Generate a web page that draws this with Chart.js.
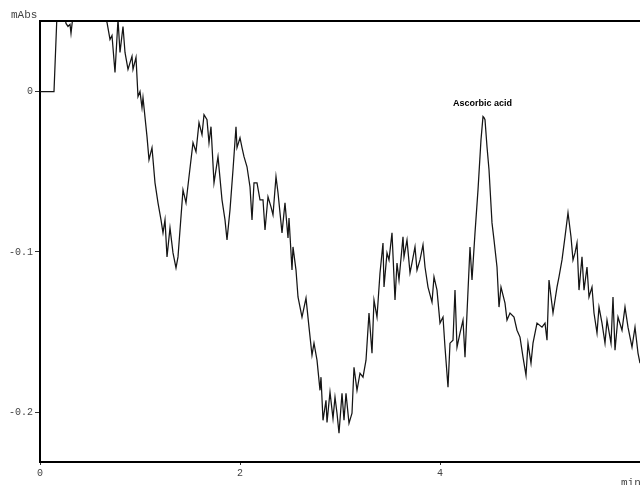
<!DOCTYPE html>
<html>
<head>
<meta charset="utf-8">
<script src="https://cdn.jsdelivr.net/npm/chart.js@4.4.1/dist/chart.umd.min.js"></script>
<style>
  html, body { margin: 0; padding: 0; background: #fff; }
  #wrap { width: 640px; height: 485px; position: relative; }
</style>
</head>
<body>
<div id="wrap"><canvas id="c" width="640" height="485"></canvas></div>
<script>
// Retention time (min)
const timeMin = [
  0, 0.14, 0.17, 0.20, 0.24, 0.26, 0.28, 0.30, 0.31, 0.33,
  0.38, 0.46, 0.55, 0.63, 0.67, 0.70, 0.72, 0.75, 0.78, 0.80,
  0.83, 0.85, 0.88, 0.92, 0.93, 0.96, 0.98, 1.00, 1.02, 1.03,
  1.07, 1.09, 1.12, 1.15, 1.18, 1.21, 1.23, 1.25, 1.27, 1.30,
  1.33, 1.36, 1.38, 1.43, 1.46, 1.49, 1.53, 1.56, 1.59, 1.62,
  1.64, 1.67, 1.69, 1.71, 1.74, 1.78, 1.82, 1.85, 1.87, 1.90,
  1.93, 1.96, 1.97, 2.00, 2.02, 2.04, 2.07, 2.10, 2.12, 2.14,
  2.17, 2.20, 2.23, 2.25, 2.28, 2.31, 2.33, 2.36, 2.38, 2.42,
  2.45, 2.48, 2.49, 2.52, 2.53, 2.56, 2.58, 2.62, 2.66, 2.69,
  2.72, 2.74, 2.77, 2.80, 2.81, 2.83, 2.86, 2.87, 2.90, 2.93,
  2.95, 2.97, 2.99, 3.02, 3.04, 3.06, 3.09, 3.12, 3.14, 3.17,
  3.20, 3.23, 3.26, 3.29, 3.32, 3.34, 3.37, 3.40, 3.43, 3.44,
  3.47, 3.49, 3.52, 3.55, 3.57, 3.59, 3.63, 3.64, 3.67, 3.70,
  3.72, 3.75, 3.77, 3.80, 3.83, 3.85, 3.88, 3.92, 3.94, 3.97,
  4.00, 4.03, 4.05, 4.08, 4.10, 4.13, 4.15, 4.17, 4.20, 4.23,
  4.25, 4.27, 4.30, 4.32, 4.35, 4.38, 4.41, 4.43, 4.44, 4.45,
  4.47, 4.49, 4.52, 4.54, 4.57, 4.59, 4.61, 4.65, 4.67, 4.70,
  4.74, 4.77, 4.80, 4.83, 4.86, 4.88, 4.91, 4.93, 4.97, 5.02,
  5.05, 5.07, 5.09, 5.13, 5.17, 5.19, 5.22, 5.25, 5.28, 5.31,
  5.33, 5.35, 5.37, 5.39, 5.42, 5.44, 5.47, 5.49, 5.52, 5.54,
  5.57, 5.59, 5.62, 5.65, 5.67, 5.71, 5.73, 5.75, 5.78, 5.82,
  5.85, 5.88, 5.92, 5.95, 5.98, 6.00
];

// Detector response (mAbs)
const absorbance = [
  0, 0, 0.0481, 0.0525, 0.0500, 0.0425, 0.0406, 0.0419, 0.0363, 0.0475,
  0.0544, 0.0563, 0.0538, 0.0500, 0.0431, 0.0325, 0.0350, 0.0119, 0.0450, 0.0244,
  0.0406, 0.0244, 0.0138, 0.0219, 0.0138, 0.0213, -0.0031, 0, -0.0100, -0.0038,
  -0.0281, -0.0425, -0.0350, -0.0569, -0.0694, -0.0800, -0.0881, -0.0800, -0.1031, -0.0850,
  -0.1006, -0.1100, -0.1031, -0.0613, -0.0694, -0.0531, -0.0319, -0.0375, -0.0194, -0.0269,
  -0.0144, -0.0175, -0.0319, -0.0219, -0.0569, -0.0406, -0.0675, -0.0800, -0.0925, -0.0738,
  -0.0488, -0.0219, -0.0350, -0.0288, -0.0350, -0.0406, -0.0469, -0.0594, -0.0800, -0.0569,
  -0.0569, -0.0675, -0.0675, -0.0863, -0.0656, -0.0719, -0.0769, -0.0531, -0.0631, -0.0881,
  -0.0694, -0.0913, -0.0788, -0.1113, -0.0969, -0.1113, -0.1281, -0.1406, -0.1288, -0.1469,
  -0.1644, -0.1569, -0.1675, -0.1863, -0.1781, -0.2050, -0.1925, -0.2063, -0.1875, -0.2038,
  -0.1906, -0.2006, -0.2131, -0.1881, -0.2050, -0.1881, -0.2069, -0.2006, -0.1719, -0.1863,
  -0.1756, -0.1781, -0.1675, -0.1381, -0.1631, -0.1300, -0.1406, -0.1131, -0.0944, -0.1219,
  -0.1006, -0.1050, -0.0881, -0.1300, -0.1069, -0.1175, -0.0906, -0.1031, -0.0925, -0.1131,
  -0.1069, -0.0969, -0.1113, -0.1050, -0.0956, -0.1094, -0.1219, -0.1313, -0.1156, -0.1238,
  -0.1444, -0.1406, -0.1594, -0.1844, -0.1569, -0.1550, -0.1238, -0.1594, -0.1506, -0.1425,
  -0.1656, -0.1381, -0.0969, -0.1175, -0.0881, -0.0613, -0.0300, -0.0156, -0.0163, -0.0175,
  -0.0344, -0.0488, -0.0819, -0.0925, -0.1094, -0.1344, -0.1219, -0.1319, -0.1425, -0.1381,
  -0.1406, -0.1488, -0.1531, -0.1656, -0.1769, -0.1569, -0.1694, -0.1569, -0.1444, -0.1469,
  -0.1444, -0.1550, -0.1175, -0.1381, -0.1219, -0.1156, -0.1050, -0.0906, -0.0756, -0.0906,
  -0.1050, -0.1006, -0.0944, -0.1238, -0.1031, -0.1238, -0.1094, -0.1281, -0.1219, -0.1381,
  -0.1506, -0.1344, -0.1444, -0.1569, -0.1425, -0.1569, -0.1281, -0.1613, -0.1406, -0.1488,
  -0.1344, -0.1469, -0.1594, -0.1469, -0.1631, -0.1694
];

const xTickValues = [0, 2, 4];
const yTickValues = [0, -0.1, -0.2];

// Named peak
const peakName = 'Ascorbic acid';
const peakTime = 4.43;
const peakAbs = -0.0156;

const axisFont = { family: '"Liberation Mono", "DejaVu Sans Mono", monospace', size: 10 };
const textGrey = '#444';

const frameAndLabels = {
  id: 'frameAndLabels',
  afterDraw(chart) {
    const { ctx, chartArea, scales } = chart;
    ctx.save();
    // top frame line
    ctx.strokeStyle = '#000';
    ctx.lineWidth = 2;
    ctx.beginPath();
    ctx.moveTo(chartArea.left - 1, chartArea.top);
    ctx.lineTo(chartArea.right, chartArea.top);
    ctx.stroke();

    // unit labels
    ctx.fillStyle = textGrey;
    ctx.font = '11px "Liberation Mono", monospace';
    ctx.textBaseline = 'alphabetic';
    ctx.textAlign = 'left';
    ctx.fillText('mAbs', 11, 18);
    ctx.fillText('min', 621, 486);

    // peak annotation
    const px = scales.x.getPixelForValue(peakTime);
    const py = scales.y.getPixelForValue(peakAbs);
    ctx.fillStyle = '#000';
    ctx.font = 'bold 9px "Liberation Sans", Arial, sans-serif';
    ctx.textAlign = 'center';
    ctx.textBaseline = 'alphabetic';
    ctx.fillText(peakName, px - 0.5, py - 11);
    ctx.restore();
  }
};

new Chart(document.getElementById('c'), {
  type: 'line',
  data: {
    datasets: [{
      data: timeMin.map((t, i) => ({ x: t, y: absorbance[i] })),
      borderColor: '#151515',
      borderWidth: 1.25,
      pointRadius: 0,
      tension: 0,
      fill: false
    }]
  },
  options: {
    responsive: false,
    animation: false,
    devicePixelRatio: 1,
    layout: { padding: { top: 21, left: 0, right: 0, bottom: 0 } },
    plugins: { legend: { display: false }, tooltip: { enabled: false } },
    scales: {
      x: {
        type: 'linear',
        min: 0,
        max: 6.0,
        afterFit(scale) { scale.height = 23; },
        afterBuildTicks(scale) { scale.ticks = xTickValues.map(v => ({ value: v })); },
        ticks: { font: axisFont, color: textGrey, padding: 2, maxRotation: 0,
                 callback: v => String(v) },
        grid: { drawOnChartArea: false, drawTicks: true, tickLength: 3, color: '#333' },
        border: { display: true, color: '#000', width: 2 }
      },
      y: {
        type: 'linear',
        min: -0.231,
        max: 0.044,
        afterFit(scale) { scale.width = 40; },
        afterBuildTicks(scale) { scale.ticks = yTickValues.map(v => ({ value: v })); },
        ticks: { font: axisFont, color: textGrey, padding: 2,
                 callback: v => String(v) },
        grid: { drawOnChartArea: false, drawTicks: true, tickLength: 5, color: '#333' },
        border: { display: true, color: '#000', width: 2 }
      }
    }
  },
  plugins: [frameAndLabels]
});
</script>
</body>
</html>
